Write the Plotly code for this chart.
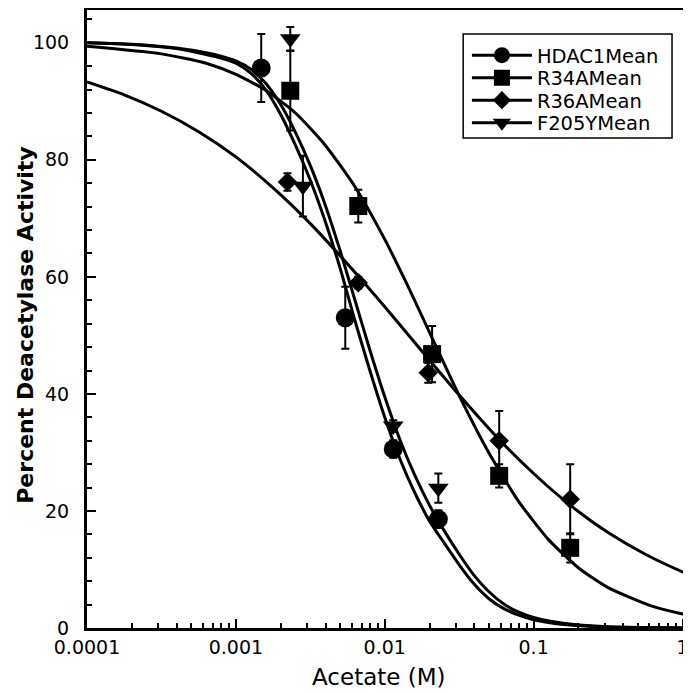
import plotly.graph_objects as go

# ---- data points ----
hdac1_x = [0.00148, 0.00543, 0.0114, 0.0229]
hdac1_y = [95.7, 53.0, 30.6, 18.6]
hdac1_err = [5.8, 5.3, 1.5, 1.5]

r34a_x = [0.00232, 0.00664, 0.0208, 0.0587, 0.176]
r34a_y = [91.8, 72.1, 46.8, 26.0, 13.7]
r34a_err = [6.8, 2.8, 4.8, 2.0, 2.5]

r36a_x = [0.00222, 0.00664, 0.0196, 0.0587, 0.176]
r36a_y = [76.2, 59.0, 43.6, 32.0, 22.0]
r36a_err = [1.5, 1.0, 1.7, 5.1, 6.0]

f205y_x = [0.00232, 0.00282, 0.0114, 0.0229]
f205y_y = [100.7, 75.5, 34.5, 23.9]
f205y_err = [2.0, 5.2, 1.0, 2.5]

# ---- fitted curves (log10 of concentration) ----
steep_fit_logx = [-4.0, -3.7, -3.4, -3.2, -3.1, -3.0, -2.9, -2.8, -2.7, -2.6, -2.5, -2.4, -2.3,
                  -2.2, -2.1, -2.0, -1.9, -1.8, -1.7, -1.6, -1.5, -1.4, -1.3, -1.2, -1.1, -1.0,
                  -0.8, -0.5, 0.06]
hdac1_fit_y = [100, 99.7, 99.0, 98.0, 97.4, 96.5, 94.8, 92.0, 87.8, 82.5, 76.5, 69.5, 61.5,
               52.5, 44, 36, 29, 23.2, 18.3, 14.5, 10.8, 7.5, 5.0, 3.3, 2.2, 1.4,
               0.6, 0.15, 0]
f205y_fit_y = [100, 99.75, 99.1, 98.3, 97.7, 96.9, 95.5, 93.1, 89.5, 84.7, 79, 72.3, 64.5,
               56, 47.5, 39.5, 32.3, 26.2, 21, 16.6, 12.6, 9.0, 6.2, 4.1, 2.7, 1.8,
               0.8, 0.2, 0]

r34a_fit_logx = [-4.0, -3.5, -3.2, -3.0, -2.8, -2.6, -2.4, -2.2, -2.0, -1.85, -1.69, -1.5, -1.3,
                 -1.1, -0.9, -0.7, -0.5, -0.2, 0.0, 0.06]
r34a_fit_y = [99.4, 98.1, 96.5, 94.6, 91.9, 88.0, 82.5, 75.4, 66.4, 58.7, 50, 39.7, 29.9,
              21.6, 15.1, 10.3, 6.9, 3.7, 2.4, 2.1]

r36a_fit_logx = [-4.0, -3.75, -3.5, -3.25, -3.0, -2.75, -2.5, -2.25, -2.0, -1.75, -1.5, -1.25,
                 -1.0, -0.75, -0.5, -0.25, 0.0, 0.06]
r36a_fit_y = [93.3, 91.1, 88.3, 84.8, 80.5, 75.2, 69.1, 62.2, 54.9, 47.3, 39.8, 32.7,
              26.4, 20.9, 16.3, 12.6, 9.6, 9.0]

x_tick_vals = [0.0001, 0.001, 0.01, 0.1, 1]
x_tick_text = ["0.0001", "0.001", "0.01", "0.1", "1"]
y_tick_vals = [0, 20, 40, 60, 80, 100]

series_names = ["HDAC1Mean", "R34AMean", "R36AMean", "F205YMean"]
series = [
    (hdac1_x, hdac1_y, hdac1_err, steep_fit_logx, hdac1_fit_y, "circle", 19),
    (r34a_x, r34a_y, r34a_err, r34a_fit_logx, r34a_fit_y, "square", 18),
    (r36a_x, r36a_y, r36a_err, r36a_fit_logx, r36a_fit_y, "diamond", 15),
    (f205y_x, f205y_y, f205y_err, steep_fit_logx, f205y_fit_y, "triangle-down", 18),
]

FONT = "DejaVu Sans, Liberation Sans, Arial, sans-serif"
fig = go.Figure()

for xs, ys, errs, flx, fy, sym, sz in series:
    fig.add_trace(go.Scatter(
        x=[10 ** v for v in flx], y=fy, mode="lines",
        line=dict(color="black", width=3, shape="spline", smoothing=0.6),
        showlegend=False, hoverinfo="skip"))
for name, (xs, ys, errs, flx, fy, sym, sz) in zip(series_names, series):
    fig.add_trace(go.Scatter(
        x=xs, y=ys, mode="markers",
        marker=dict(symbol=sym, size=sz, color="black"),
        error_y=dict(type="data", array=errs, visible=True, color="black", thickness=2, width=4),
        showlegend=False, name=name))

# one single-entry legend per series, so the entries can sit as tightly as in the original
legend_keys = ["legend", "legend2", "legend3", "legend4"]
legend_y = [0.9264, 0.8900, 0.8536, 0.8172]
for key, name, (xs, ys, errs, flx, fy, sym, sz) in zip(legend_keys, series_names, series):
    fig.add_trace(go.Scatter(
        x=[None], y=[None], mode="lines+markers", name=name, legend=key,
        line=dict(color="black", width=3),
        marker=dict(symbol=sym, size=sz - 1, color="black")))

legend_layout = {}
for key, ly in zip(legend_keys, legend_y):
    legend_layout[key] = dict(x=0.629, y=ly, xanchor="left", yanchor="middle",
                              bgcolor="rgba(0,0,0,0)", borderwidth=0,
                              font=dict(size=19.5, family=FONT, color="black"), itemwidth=60)

minor_x = [m * 10 ** e for e in range(-4, 0) for m in range(2, 10)]

fig.update_layout(
    width=683, height=686,
    margin=dict(l=78.5, r=0, t=2, b=66),
    paper_bgcolor="white", plot_bgcolor="white",
    font=dict(family=FONT, color="black", size=19),
    showlegend=True,
    xaxis=dict(type="log", range=[-4, 0.057], tickvals=x_tick_vals, ticktext=x_tick_text,
               ticks="inside", ticklen=9, tickwidth=2, tickcolor="black",
               showline=True, linewidth=3, linecolor="black", mirror=True,
               showgrid=False, zeroline=False, automargin=False,
               tickfont=dict(size=19, family=FONT), ticklabelstandoff=0,
               minor=dict(tickvals=minor_x, ticks="inside", ticklen=5, tickwidth=2,
                          tickcolor="black", showgrid=False)),
    yaxis=dict(range=[0, 105.6], tickvals=y_tick_vals,
               ticks="inside", ticklen=9, tickwidth=2, tickcolor="black",
               showline=True, linewidth=3, linecolor="black", mirror=False,
               showgrid=False, zeroline=False, automargin=False,
               tickfont=dict(size=19, family=FONT), ticklabelstandoff=11,
               minor=dict(dtick=4, ticks="inside", ticklen=5, tickwidth=2,
                          tickcolor="black", showgrid=False)),
    shapes=[dict(type="rect", xref="paper", yref="paper", x0=0.6228, x1=0.9686, y0=0.7929, y1=0.9612,
                 line=dict(color="black", width=1.5), fillcolor="rgba(0,0,0,0)", layer="below")],
    annotations=[
        dict(text="Acetate (M)", xref="paper", yref="paper", x=0.484, y=-0.0793,
             xanchor="center", yanchor="middle", showarrow=False,
             font=dict(size=23, family=FONT, color="black")),
        dict(text="Percent Deacetylase Activity", xref="paper", yref="paper", x=-0.1017, y=0.49,
             xanchor="center", yanchor="middle", showarrow=False, textangle=-90,
             font=dict(size=22, family=FONT, color="black", weight="bold")),
    ],
    **legend_layout,
)

fig.write_html("out.html")
